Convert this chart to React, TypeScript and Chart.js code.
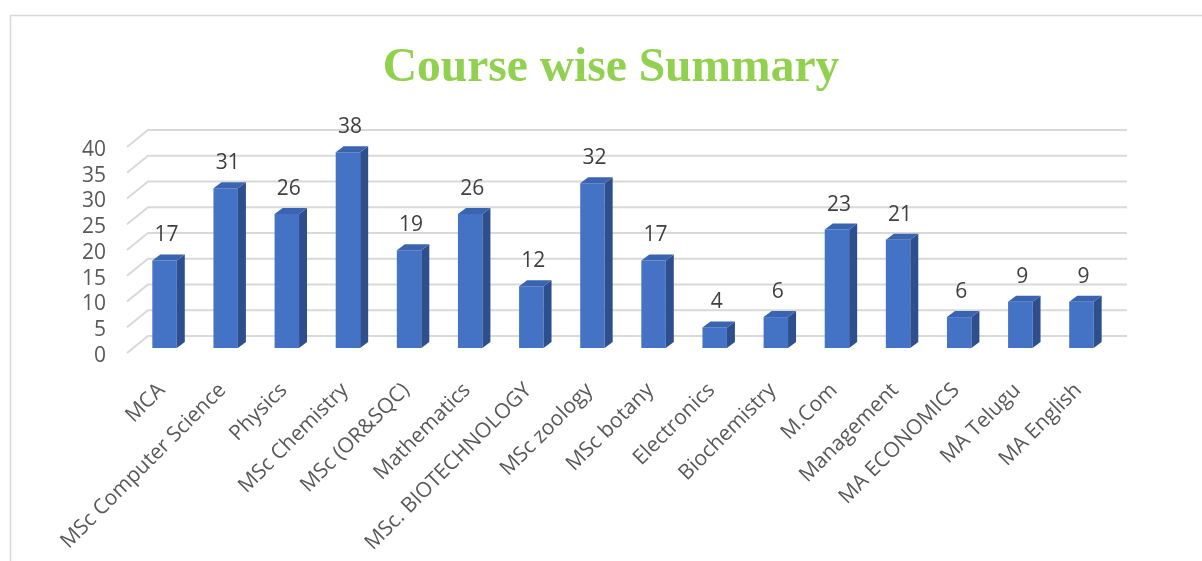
import React, { useEffect, useRef } from "react";
import { Chart, registerables } from "chart.js";

Chart.register(...registerables);

const titleText = "Course wise Summary";
const categories = [
  "MCA",
  "MSc Computer Science",
  "Physics",
  "MSc Chemistry",
  "MSc (OR&SQC)",
  "Mathematics",
  "MSc. BIOTECHNOLOGY",
  "MSc zoology",
  "MSc botany",
  "Electronics",
  "Biochemistry",
  "M.Com",
  "Management",
  "MA ECONOMICS",
  "MA Telugu",
  "MA English",
];
const counts = [17, 31, 26, 38, 19, 26, 12, 32, 17, 4, 6, 23, 21, 6, 9, 9];
const yMin = 0;
const yMax = 40;
const yStep = 5;

const FRONT = "#4472C4";
const TOP = "#3A64B0";
const SIDE = "#2E4F8E";
const GRID = "#d9d9d9";
const DX = 8;
const DY = 6;

const threeD = {
  id: "threeD",
  beforeDraw(chart: any) {
    const ctx = chart.ctx;
    ctx.save();
    ctx.strokeStyle = "#d9d9d9";
    ctx.lineWidth = 1.5;
    ctx.beginPath();
    ctx.moveTo(10.5, chart.height + 5);
    ctx.lineTo(10.5, 15.5);
    ctx.lineTo(chart.width + 5, 15.5);
    ctx.stroke();
    ctx.restore();
  },
  beforeDatasetsDraw(chart: any) {
    const ctx = chart.ctx;
    const ys = chart.scales.y;
    const area = chart.chartArea;
    ctx.save();
    ctx.strokeStyle = GRID;
    ctx.lineWidth = 2;
    for (let v = yMin; v <= yMax; v += yStep) {
      const yb = ys.getPixelForValue(v);
      ctx.beginPath();
      ctx.moveTo(area.left - 7, yb + 5);
      ctx.lineTo(area.left + 14, yb - 12);
      ctx.lineTo(area.right + 15, yb - 12);
      ctx.stroke();
    }
    ctx.restore();
  },
  afterDatasetsDraw(chart: any) {
    const ctx = chart.ctx;
    const meta = chart.getDatasetMeta(0);
    ctx.save();
    meta.data.forEach((bar: any, i: number) => {
      const { x, y, base, width } = bar.getProps(["x", "y", "base", "width"], true);
      const l = x - width / 2;
      const r = x + width / 2;
      ctx.fillStyle = SIDE;
      ctx.beginPath();
      ctx.moveTo(r, y);
      ctx.lineTo(r + DX, y - DY);
      ctx.lineTo(r + DX, base - DY);
      ctx.lineTo(r, base);
      ctx.closePath();
      ctx.fill();
      ctx.fillStyle = TOP;
      ctx.beginPath();
      ctx.moveTo(l, y);
      ctx.lineTo(l + DX, y - DY);
      ctx.lineTo(r + DX, y - DY);
      ctx.lineTo(r, y);
      ctx.closePath();
      ctx.fill();
      ctx.fillStyle = "#404040";
      ctx.font = "21px 'Open Sans'";
      ctx.textAlign = "center";
      ctx.textBaseline = "middle";
      ctx.fillText(String(counts[i]), x + 2, y - 25);
    });
    ctx.restore();
  },
};

export default function App() {
  const ref = useRef<HTMLCanvasElement | null>(null);
  useEffect(() => {
    if (!ref.current) return;
    const chart = new Chart(ref.current, {
      type: "bar",
      data: {
        labels: categories,
        datasets: [
          {
            data: counts,
            backgroundColor: FRONT,
            borderWidth: 0,
            barPercentage: 0.4,
            categoryPercentage: 1,
          },
        ],
      },
      options: {
        responsive: true,
        maintainAspectRatio: false,
        animation: false,
        layout: { padding: { left: 20, right: 0, top: 0, bottom: 0 } },
        plugins: {
          legend: { display: false },
          tooltip: { enabled: false },
          title: {
            display: true,
            text: titleText,
            color: "#92D050",
            font: { family: "'Liberation Serif'", size: 47.5, weight: "bold" },
            padding: { top: 40, bottom: 45 },
          },
        },
        scales: {
          x: {
            grid: { display: false, drawTicks: false },
            border: { display: false },
            ticks: {
              autoSkip: false,
              maxRotation: 45,
              minRotation: 45,
              color: "#595959",
              font: { family: "'Open Sans'", size: 21 },
              padding: 30,
              labelOffset: -3,
            },
            afterFit: (s: any) => {
              s.height = 213;
            },
          },
          y: {
            min: yMin,
            max: yMax,
            grid: { display: false, drawTicks: false },
            border: { display: false },
            ticks: {
              autoSkip: false,
              stepSize: yStep,
              color: "#595959",
              font: { family: "'Open Sans'", size: 21 },
              padding: 28,
              labelOffset: 8,
            },
            afterFit: (s: any) => {
              s.width = 114;
            },
          },
          yRight: {
            position: "right",
            min: yMin,
            max: yMax,
            grid: { display: false, drawTicks: false },
            border: { display: false },
            ticks: { display: false },
            afterFit: (s: any) => {
              s.width = 90;
            },
          },
        },
      },
      plugins: [threeD],
    });
    return () => chart.destroy();
  }, []);
  return (
    <div style={{ position: "fixed", left: 0, top: 0, width: 1202, height: 561, background: "#fff" }}>
      <canvas ref={ref} />
    </div>
  );
}
